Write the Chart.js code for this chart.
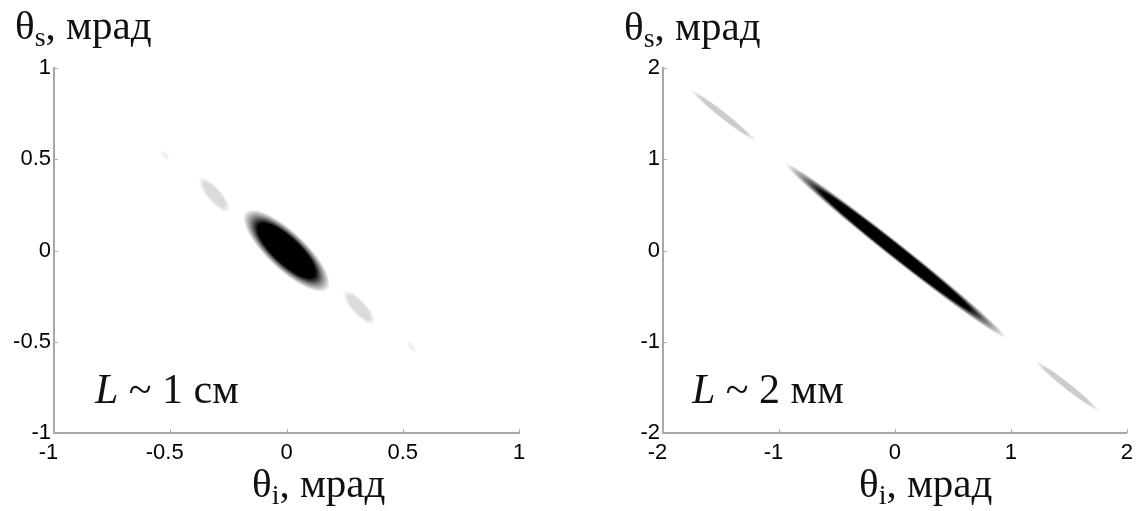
<!DOCTYPE html>
<html>
<head>
<meta charset="utf-8">
<script src="https://cdn.jsdelivr.net/npm/chart.js@4.4.0/dist/chart.umd.min.js"></script>
<style>
  html, body { margin: 0; padding: 0; background: #fff; }
  #wrap { position: relative; width: 1140px; height: 511px; overflow: hidden; }
  canvas { position: absolute; top: 0; }
</style>
</head>
<body>
<div id="wrap">
  <canvas id="chartL" width="570" height="511" style="left:0"></canvas>
  <canvas id="chartR" width="570" height="511" style="left:570px"></canvas>
</div>
<script>
// деления осей, мрад
const ticksL = [-1, -0.5, 0, 0.5, 1];
const ticksR = [-2, -1, 0, 1, 2];

// лепестки: [θi начало, θs начало, θi конец, θs конец, ширина (мрад), плотность 0..1]
const lobesL = [
    [-0.178, 0.212, 0.178, -0.214, 0.165, 1.0],
    [-0.375, 0.40, -0.245, 0.21, 0.065, 0.14],
    [0.245, -0.22, 0.38, -0.405, 0.065, 0.14],
    [-0.54, 0.55, -0.505, 0.495, 0.025, 0.05],
    [0.52, -0.50, 0.555, -0.555, 0.025, 0.05]
];
const lobesR = [
    [-0.95, 0.96, 0.96, -0.96, 0.14, 1.0],
    [-1.77, 1.77, -1.19, 1.19, 0.065, 0.2],
    [1.2, -1.2, 1.77, -1.77, 0.065, 0.2]
];

// подписи
const notesL = "1 см";
const notesR = "2 мм";

function drawLobe(ctx, xs, ys, lobe) {
    const [x0, y0, x1, y1, w, a] = lobe;
    const px0 = xs.getPixelForValue(x0), py0 = ys.getPixelForValue(y0);
    const px1 = xs.getPixelForValue(x1), py1 = ys.getPixelForValue(y1);
    const half = Math.hypot(px1 - px0, py1 - py0) / 2;
    const thick = Math.abs(xs.getPixelForValue(w) - xs.getPixelForValue(0)) / 2;
    ctx.save();
    ctx.translate((px0 + px1) / 2, (py0 + py1) / 2);
    ctx.rotate(Math.atan2(py1 - py0, px1 - px0));
    ctx.scale(half, thick);
    const g = ctx.createRadialGradient(0, 0, 0, 0, 0, 1);
    g.addColorStop(0, "rgba(0,0,0," + a + ")");
    g.addColorStop(0.66, "rgba(0,0,0," + a + ")");
    g.addColorStop(0.83, "rgba(0,0,0," + (a * 0.45) + ")");
    g.addColorStop(1, "rgba(0,0,0,0)");
    ctx.fillStyle = g;
    ctx.beginPath();
    ctx.arc(0, 0, 1, 0, Math.PI * 2);
    ctx.fill();
    ctx.restore();
}

const lobePlugin = {
    id: "lobes",
    beforeDatasetsDraw(chart, args, opts) {
        const { ctx, chartArea: a, scales: { x, y } } = chart;
        ctx.save();
        ctx.beginPath();
        ctx.rect(a.left, a.top, a.width, a.height);
        ctx.clip();
        opts.list.forEach(l => drawLobe(ctx, x, y, l));
        ctx.restore();
    }
};

// засечки внутрь, как в matlab
const tickPlugin = {
    id: "inTicks",
    afterDraw(chart) {
        const { ctx, chartArea: a, scales: { x, y } } = chart;
        ctx.save();
        ctx.strokeStyle = "#b0b0b0";
        ctx.lineWidth = 1;
        ctx.beginPath();
        x.ticks.forEach((t, i) => {
            const px = Math.round(x.getPixelForTick(i)) + 0.5;
            ctx.moveTo(px, a.bottom);
            ctx.lineTo(px, a.bottom - 4);
        });
        y.ticks.forEach((t, i) => {
            const py = Math.round(y.getPixelForTick(i)) + 0.5;
            ctx.moveTo(a.left, py);
            ctx.lineTo(a.left + 4, py);
        });
        ctx.stroke();
        ctx.restore();
    }
};

function drawTitle(ctx, x, y, sub) {
    ctx.font = '41px "Liberation Serif"';
    ctx.fillText("θ", x, y);
    x += ctx.measureText("θ").width;
    ctx.font = '28px "Liberation Serif"';
    ctx.fillText(sub, x, y + 7);
    x += ctx.measureText(sub).width;
    ctx.font = '41px "Liberation Serif"';
    ctx.fillText(", мрад", x, y);
}

const textPlugin = {
    id: "panelText",
    afterDraw(chart, args, opts) {
        const ctx = chart.ctx;
        ctx.save();
        ctx.fillStyle = "#111";
        ctx.textBaseline = "alphabetic";
        ctx.textAlign = "left";
        drawTitle(ctx, opts.yTitle[0], opts.yTitle[1], "s");
        drawTitle(ctx, opts.xTitle[0], opts.xTitle[1], "i");
        ctx.font = 'italic 42px "Liberation Serif"';
        ctx.fillText("L", opts.note[0], opts.note[1]);
        const w = ctx.measureText("L").width;
        ctx.font = '42px "Liberation Serif"';
        ctx.fillText(" ~ " + opts.text, opts.note[0] + w, opts.note[1]);
        ctx.restore();
    }
};

function makePanel(id, ticks, lobes, text, pad, pos) {
    const lim = ticks[ticks.length - 1];
    const tickFont = { family: "Liberation Sans", size: 22 };
    const fixTicks = s => { s.ticks = ticks.map(v => ({ value: v })); };
    return new Chart(document.getElementById(id), {
        type: "scatter",
        data: {
            datasets: [{
                data: lobes.map(l => ({ x: (l[0] + l[2]) / 2, y: (l[1] + l[3]) / 2 })),
                pointRadius: 0
            }]
        },
        options: {
            responsive: false,
            animation: false,
            devicePixelRatio: 1,
            layout: { padding: pad },
            scales: {
                x: {
                    type: "linear", min: -lim, max: lim,
                    afterBuildTicks: fixTicks,
                    afterFit: s => { s.height = 40; },
                    grid: { display: false, drawTicks: false },
                    border: { display: true, color: "#a8a8a8", width: 2 },
                    ticks: {
                        color: "#000", font: tickFont, padding: 7,
                        maxRotation: 0, autoSkip: false,
                        callback: v => v < 0 ? v + "\u2002" : String(v)
                    }
                },
                y: {
                    type: "linear", min: -lim, max: lim,
                    afterBuildTicks: fixTicks,
                    afterFit: s => { s.width = 54; },
                    grid: { display: false, drawTicks: false },
                    border: { display: true, color: "#a8a8a8", width: 2 },
                    ticks: {
                        color: "#000", font: tickFont, padding: 3,
                        autoSkip: false,
                        callback: v => String(v)
                    }
                }
            },
            plugins: {
                legend: { display: false },
                tooltip: { enabled: false },
                lobes: { list: lobes },
                panelText: { yTitle: pos.y, xTitle: pos.x, note: pos.n, text: text }
            }
        },
        plugins: [lobePlugin, tickPlugin, textPlugin]
    });
}

makePanel("chartL", ticksL, lobesL, notesL,
    { left: 0, right: 51, top: 68, bottom: 38 },
    { y: [15, 39], x: [252, 497], n: [95, 403] });
makePanel("chartR", ticksR, lobesR, notesR,
    { left: 39, right: 12, top: 68, bottom: 38 },
    { y: [54, 40], x: [289, 497], n: [122, 403] });
</script>
</body>
</html>
